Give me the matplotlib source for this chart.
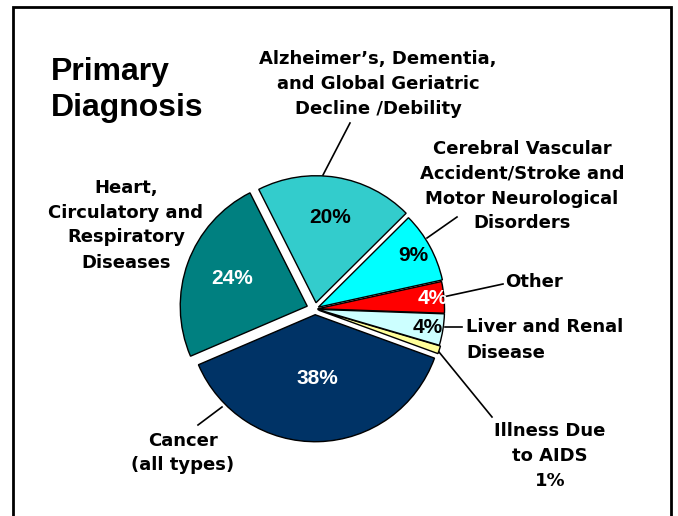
import numpy as np
import matplotlib
matplotlib.use("Agg")
import matplotlib.pyplot as plt
from matplotlib.patches import Rectangle

#-----Data-----#
categories = ["Other",
              "Cerebral Vascular\nAccident/Stroke and\nMotor Neurological\nDisorders",
              "Alzheimer\u2019s, Dementia,\nand Global Geriatric\nDecline /Debility",
              "Heart,\nCirculatory and\nRespiratory\nDiseases",
              "Cancer\n(all types)",
              "Illness Due\nto AIDS\n1%",
              "Liver and Renal\nDisease"]
shares = [4, 9, 20, 24, 38, 1, 4]
colors = ["#FF0000", "#00FFFF", "#33CCCC", "#008080", "#003366", "#FFFF99", "#CCFFFF"]
explode = [0.02, 0.03, 0.05, 0.065, 0.045, 0.03, 0.02]
pct_colors = ["white", "black", "black", "white", "white", None, "black"]
pct_frac = [0.91, 0.85, 0.68, 0.63, 0.50, None, 0.88]

W, H = 678, 516
plt.rcParams['font.family'] = ['Liberation Sans', 'DejaVu Sans']

fig = plt.figure(figsize=(W / 100, H / 100), dpi=100)
ax = fig.add_axes([0, 0, 1, 1])

cx, cy, r = 315, H - 309, 127
# pie explode is absolute, so scale by radius
wedges, _ = ax.pie(shares, colors=colors, explode=[e * r for e in explode],
                   startangle=-2, counterclock=True, center=(cx, cy), radius=r,
                   frame=True, wedgeprops=dict(edgecolor="black", linewidth=1))
ax.set_xlim(0, W)
ax.set_ylim(0, H)
ax.set_aspect("equal")
ax.axis("off")

#-----Percent labels-----#
for w, s, c, f in zip(wedges, shares, pct_colors, pct_frac):
    if c is None:
        continue
    th = np.radians((w.theta1 + w.theta2) / 2)
    wx, wy = w.center
    ax.text(wx + f * r * np.cos(th), wy + f * r * np.sin(th), f"{s}%",
            ha="center", va="center", fontsize=15, fontweight="bold", color=c)

#-----Category labels (pixel coords, y from top)-----#
lab = dict(fontsize=13, fontweight="bold", linespacing=1.5, family="DejaVu Sans")
label_pos = [(505, 282, "left"), (522, 186, "center"), (378, 84, "center"),
             (126, 225, "center"), (183, 453, "center"), (550, 456, "center"),
             (466, 340, "left")]
for name, (x, y, ha) in zip(categories, label_pos):
    ax.text(x, H - y, name, ha=ha, va="center", multialignment=ha, **lab)

#-----Leader lines-----#
leaders = [((443, 297), (503, 284)), ((427, 238), (457, 217)), ((323, 175), (350, 123)),
           None, ((222, 407), (198, 425)), ((439, 352), (492, 417)), ((445, 327), (462, 327))]
for seg in leaders:
    if seg is None:
        continue
    (x0, y0), (x1, y1) = seg
    ax.plot([x0, x1], [H - y0, H - y1], color="black", linewidth=1.2)

#-----Title-----#
ax.text(51, H - 90, "Primary\nDiagnosis", ha="left", va="center",
        fontsize=23, fontweight="bold", linespacing=1.25)

#-----Frame-----#
ax.add_patch(Rectangle((13, -10), 658, H - 7 + 10, fill=False,
                       edgecolor="black", linewidth=2))

fig.savefig("out.png", dpi=100)
